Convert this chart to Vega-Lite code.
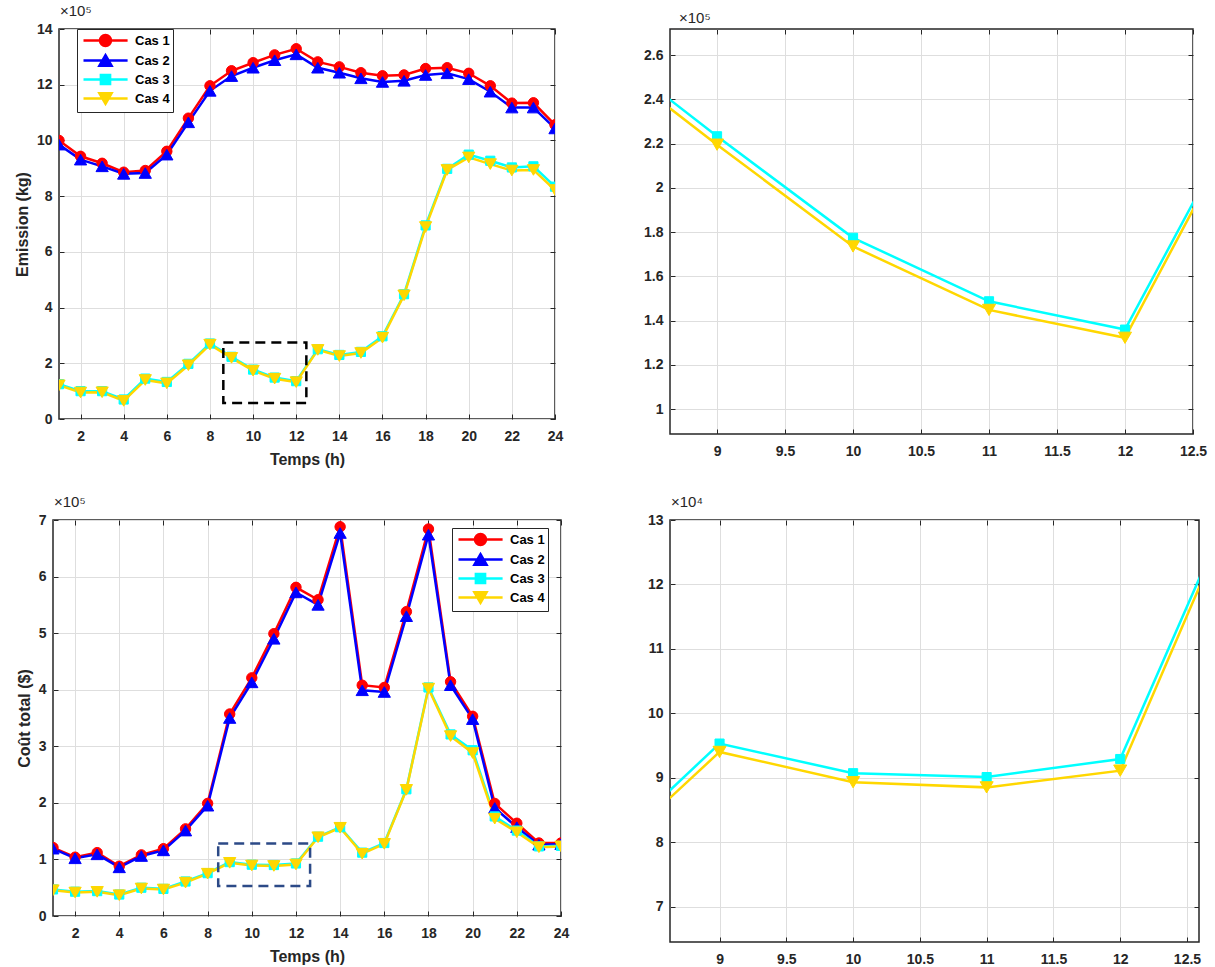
{
"$schema": "https://vega.github.io/schema/vega-lite/v6.json",
"background": "white",
"padding": {"left": 13, "top": 3, "right": 5, "bottom": 2},
"datasets": {
"emission": [
{"t":1,"cas":"Cas 1","v":1000000},{"t":2,"cas":"Cas 1","v":943000},{"t":3,"cas":"Cas 1","v":918000},{"t":4,"cas":"Cas 1","v":886000},{"t":5,"cas":"Cas 1","v":892000},{"t":6,"cas":"Cas 1","v":961000},{"t":7,"cas":"Cas 1","v":1080000},{"t":8,"cas":"Cas 1","v":1196000},{"t":9,"cas":"Cas 1","v":1250000},{"t":10,"cas":"Cas 1","v":1279000},{"t":11,"cas":"Cas 1","v":1307000},{"t":12,"cas":"Cas 1","v":1329000},{"t":13,"cas":"Cas 1","v":1282000},{"t":14,"cas":"Cas 1","v":1264000},{"t":15,"cas":"Cas 1","v":1243000},{"t":16,"cas":"Cas 1","v":1232000},{"t":17,"cas":"Cas 1","v":1235000},{"t":18,"cas":"Cas 1","v":1258000},{"t":19,"cas":"Cas 1","v":1261000},{"t":20,"cas":"Cas 1","v":1241000},{"t":21,"cas":"Cas 1","v":1196000},{"t":22,"cas":"Cas 1","v":1134000},{"t":23,"cas":"Cas 1","v":1135000},{"t":24,"cas":"Cas 1","v":1056000},
{"t":1,"cas":"Cas 2","v":985000},{"t":2,"cas":"Cas 2","v":931000},{"t":3,"cas":"Cas 2","v":907000},{"t":4,"cas":"Cas 2","v":880000},{"t":5,"cas":"Cas 2","v":883000},{"t":6,"cas":"Cas 2","v":949000},{"t":7,"cas":"Cas 2","v":1065000},{"t":8,"cas":"Cas 2","v":1178000},{"t":9,"cas":"Cas 2","v":1231000},{"t":10,"cas":"Cas 2","v":1261000},{"t":11,"cas":"Cas 2","v":1288000},{"t":12,"cas":"Cas 2","v":1309000},{"t":13,"cas":"Cas 2","v":1261000},{"t":14,"cas":"Cas 2","v":1243000},{"t":15,"cas":"Cas 2","v":1223000},{"t":16,"cas":"Cas 2","v":1210000},{"t":17,"cas":"Cas 2","v":1214000},{"t":18,"cas":"Cas 2","v":1235000},{"t":19,"cas":"Cas 2","v":1241000},{"t":20,"cas":"Cas 2","v":1220000},{"t":21,"cas":"Cas 2","v":1175000},{"t":22,"cas":"Cas 2","v":1118000},{"t":23,"cas":"Cas 2","v":1118000},{"t":24,"cas":"Cas 2","v":1043000},
{"t":1,"cas":"Cas 3","v":125000},{"t":2,"cas":"Cas 3","v":100000},{"t":3,"cas":"Cas 3","v":100000},{"t":4,"cas":"Cas 3","v":70000},{"t":5,"cas":"Cas 3","v":145000},{"t":6,"cas":"Cas 3","v":133000},{"t":7,"cas":"Cas 3","v":198000},{"t":8,"cas":"Cas 3","v":271000},{"t":9,"cas":"Cas 3","v":223300},{"t":10,"cas":"Cas 3","v":177400},{"t":11,"cas":"Cas 3","v":148700},{"t":12,"cas":"Cas 3","v":135900},{"t":13,"cas":"Cas 3","v":250500},{"t":14,"cas":"Cas 3","v":230000},{"t":15,"cas":"Cas 3","v":241000},{"t":16,"cas":"Cas 3","v":297000},{"t":17,"cas":"Cas 3","v":448000},{"t":18,"cas":"Cas 3","v":695000},{"t":19,"cas":"Cas 3","v":898000},{"t":20,"cas":"Cas 3","v":949000},{"t":21,"cas":"Cas 3","v":927000},{"t":22,"cas":"Cas 3","v":903000},{"t":23,"cas":"Cas 3","v":907000},{"t":24,"cas":"Cas 3","v":834000},
{"t":1,"cas":"Cas 4","v":121000},{"t":2,"cas":"Cas 4","v":95000},{"t":3,"cas":"Cas 4","v":96000},{"t":4,"cas":"Cas 4","v":65000},{"t":5,"cas":"Cas 4","v":140000},{"t":6,"cas":"Cas 4","v":128000},{"t":7,"cas":"Cas 4","v":193000},{"t":8,"cas":"Cas 4","v":267000},{"t":9,"cas":"Cas 4","v":219500},{"t":10,"cas":"Cas 4","v":173500},{"t":11,"cas":"Cas 4","v":144800},{"t":12,"cas":"Cas 4","v":132200},{"t":13,"cas":"Cas 4","v":248000},{"t":14,"cas":"Cas 4","v":226000},{"t":15,"cas":"Cas 4","v":237000},{"t":16,"cas":"Cas 4","v":292000},{"t":17,"cas":"Cas 4","v":444000},{"t":18,"cas":"Cas 4","v":689000},{"t":19,"cas":"Cas 4","v":894000},{"t":20,"cas":"Cas 4","v":939000},{"t":21,"cas":"Cas 4","v":915000},{"t":22,"cas":"Cas 4","v":892000},{"t":23,"cas":"Cas 4","v":894000},{"t":24,"cas":"Cas 4","v":822000}
],
"cost": [
{"t":1,"cas":"Cas 1","v":121000},{"t":2,"cas":"Cas 1","v":104000},{"t":3,"cas":"Cas 1","v":112000},{"t":4,"cas":"Cas 1","v":88000},{"t":5,"cas":"Cas 1","v":108000},{"t":6,"cas":"Cas 1","v":119000},{"t":7,"cas":"Cas 1","v":154000},{"t":8,"cas":"Cas 1","v":199000},{"t":9,"cas":"Cas 1","v":357000},{"t":10,"cas":"Cas 1","v":421000},{"t":11,"cas":"Cas 1","v":499000},{"t":12,"cas":"Cas 1","v":581000},{"t":13,"cas":"Cas 1","v":559000},{"t":14,"cas":"Cas 1","v":688000},{"t":15,"cas":"Cas 1","v":408000},{"t":16,"cas":"Cas 1","v":404000},{"t":17,"cas":"Cas 1","v":538000},{"t":18,"cas":"Cas 1","v":684000},{"t":19,"cas":"Cas 1","v":414000},{"t":20,"cas":"Cas 1","v":353000},{"t":21,"cas":"Cas 1","v":199000},{"t":22,"cas":"Cas 1","v":164000},{"t":23,"cas":"Cas 1","v":129000},{"t":24,"cas":"Cas 1","v":129000},
{"t":1,"cas":"Cas 2","v":119000},{"t":2,"cas":"Cas 2","v":102000},{"t":3,"cas":"Cas 2","v":109000},{"t":4,"cas":"Cas 2","v":86000},{"t":5,"cas":"Cas 2","v":106000},{"t":6,"cas":"Cas 2","v":116000},{"t":7,"cas":"Cas 2","v":151000},{"t":8,"cas":"Cas 2","v":195000},{"t":9,"cas":"Cas 2","v":350000},{"t":10,"cas":"Cas 2","v":413000},{"t":11,"cas":"Cas 2","v":490000},{"t":12,"cas":"Cas 2","v":572000},{"t":13,"cas":"Cas 2","v":550000},{"t":14,"cas":"Cas 2","v":677000},{"t":15,"cas":"Cas 2","v":399000},{"t":16,"cas":"Cas 2","v":396000},{"t":17,"cas":"Cas 2","v":530000},{"t":18,"cas":"Cas 2","v":674000},{"t":19,"cas":"Cas 2","v":408000},{"t":20,"cas":"Cas 2","v":348000},{"t":21,"cas":"Cas 2","v":191000},{"t":22,"cas":"Cas 2","v":157000},{"t":23,"cas":"Cas 2","v":126000},{"t":24,"cas":"Cas 2","v":127000},
{"t":1,"cas":"Cas 3","v":47000},{"t":2,"cas":"Cas 3","v":43000},{"t":3,"cas":"Cas 3","v":44000},{"t":4,"cas":"Cas 3","v":38000},{"t":5,"cas":"Cas 3","v":50000},{"t":6,"cas":"Cas 3","v":48000},{"t":7,"cas":"Cas 3","v":61000},{"t":8,"cas":"Cas 3","v":75800},{"t":9,"cas":"Cas 3","v":95300},{"t":10,"cas":"Cas 3","v":90700},{"t":11,"cas":"Cas 3","v":90100},{"t":12,"cas":"Cas 3","v":92900},{"t":13,"cas":"Cas 3","v":140200},{"t":14,"cas":"Cas 3","v":157000},{"t":15,"cas":"Cas 3","v":112000},{"t":16,"cas":"Cas 3","v":129000},{"t":17,"cas":"Cas 3","v":224000},{"t":18,"cas":"Cas 3","v":404000},{"t":19,"cas":"Cas 3","v":321000},{"t":20,"cas":"Cas 3","v":293000},{"t":21,"cas":"Cas 3","v":176000},{"t":22,"cas":"Cas 3","v":151000},{"t":23,"cas":"Cas 3","v":123000},{"t":24,"cas":"Cas 3","v":124000},
{"t":1,"cas":"Cas 4","v":45600},{"t":2,"cas":"Cas 4","v":41500},{"t":3,"cas":"Cas 4","v":42700},{"t":4,"cas":"Cas 4","v":36800},{"t":5,"cas":"Cas 4","v":48600},{"t":6,"cas":"Cas 4","v":46800},{"t":7,"cas":"Cas 4","v":59000},{"t":8,"cas":"Cas 4","v":74800},{"t":9,"cas":"Cas 4","v":94000},{"t":10,"cas":"Cas 4","v":89300},{"t":11,"cas":"Cas 4","v":88500},{"t":12,"cas":"Cas 4","v":91100},{"t":13,"cas":"Cas 4","v":139200},{"t":14,"cas":"Cas 4","v":156000},{"t":15,"cas":"Cas 4","v":110000},{"t":16,"cas":"Cas 4","v":127500},{"t":17,"cas":"Cas 4","v":223000},{"t":18,"cas":"Cas 4","v":402000},{"t":19,"cas":"Cas 4","v":318000},{"t":20,"cas":"Cas 4","v":288000},{"t":21,"cas":"Cas 4","v":172000},{"t":22,"cas":"Cas 4","v":148000},{"t":23,"cas":"Cas 4","v":121500},{"t":24,"cas":"Cas 4","v":123000}
],
"boxes": [
{"panel":"TL","x1":8.62,"x2":12.47,"y1":57000,"y2":275000},
{"panel":"BL","x1":8.48,"x2":12.64,"y1":53000,"y2":128000}
]
},
"columns": 2,
"spacing": {"row": 86, "column": 109},
"bounds": "flush",
"center": {"column": true},
"concat": [
{
"width": 496, "height": 390,
"title": {"text": "×10⁵"},
"resolve": {"scale": {"color": "independent", "shape": "independent", "stroke": "independent"}, "axis": {"x": "independent", "y": "independent"}},
"layer": [
{"data": {"name": "emission"},
 "mark": {"type": "line", "strokeWidth": 2.5, "clip": true},
 "encoding": {
  "x": {"field": "t", "type": "quantitative", "scale": {"domain": [1, 24], "nice": false, "zero": false}, "axis": {"orient": "bottom", "values": [2,4,6,8,10,12,14,16,18,20,22,24], "title": "Temps (h)", "labelExpr": "'' + datum.value", "labelPadding": 15, "titlePadding": 8}},
  "y": {"field": "v", "type": "quantitative", "scale": {"domain": [0, 1400000], "nice": false, "zero": false}, "axis": {"orient": "left", "values": [0,200000,400000,600000,800000,1000000,1200000,1400000], "title": "Emission (kg)", "labelExpr": "'' + datum.value / 100000", "labelPadding": 12, "titlePadding": 6}},
  "color": {"field": "cas", "type": "nominal", "scale": {"domain": ["Cas 1","Cas 2","Cas 3","Cas 4"], "range": ["#ff0000","#0000ff","#00ffff","#ffd700"]}, "legend": null}
 }},
{"data": {"name": "emission"},
 "mark": {"type": "point", "filled": true, "opacity": 1, "size": 150, "strokeWidth": 1, "clip": true},
 "encoding": {
  "x": {"field": "t", "type": "quantitative", "scale": {"domain": [1, 24], "nice": false, "zero": false}, "axis": {"orient": "top", "values": [2,4,6,8,10,12,14,16,18,20,22,24], "labels": false, "grid": false, "title": null}},
  "y": {"field": "v", "type": "quantitative", "scale": {"domain": [0, 1400000], "nice": false, "zero": false}, "axis": {"orient": "right", "values": [0,200000,400000,600000,800000,1000000,1200000,1400000], "labels": false, "grid": false, "title": null}},
  "color": {"field": "cas", "type": "nominal", "scale": {"domain": ["Cas 1","Cas 2","Cas 3","Cas 4"], "range": ["#ff0000","#0000ff","#00ffff","#ffd700"]}, "legend": null},
  "stroke": {"field": "cas", "type": "nominal", "scale": {"domain": ["Cas 1","Cas 2","Cas 3","Cas 4"], "range": ["#ff0000","#0000ff","#00ffff","#ffd700"]}, "legend": null},
  "shape": {"field": "cas", "type": "nominal", "scale": {"domain": ["Cas 1","Cas 2","Cas 3","Cas 4"], "range": ["M0.85,0A0.85,0.85,0,1,1,-0.85,0A0.85,0.85,0,1,1,0.85,0Z","triangle-up","M-0.75,-0.75H0.75V0.75H-0.75Z","triangle-down"]}, "legend": null}
 }},
{"data": {"name": "boxes"},
 "transform": [{"filter": "datum.panel == 'TL'"}],
 "mark": {"type": "rect", "filled": false, "stroke": "#000000", "strokeWidth": 2.5, "strokeDash": [10, 6]},
 "encoding": {
  "x": {"field": "x1", "type": "quantitative", "scale": {"domain": [1, 24], "nice": false, "zero": false}, "axis": null},
  "x2": {"field": "x2"},
  "y": {"field": "y1", "type": "quantitative", "scale": {"domain": [0, 1400000], "nice": false, "zero": false}, "axis": null},
  "y2": {"field": "y2"}
 }},
{"data": {"name": "emission"},
 "transform": [{"filter": "false"}],
 "mark": {"type": "point", "filled": true, "opacity": 1},
 "encoding": {
  "color": {"field": "cas", "type": "nominal", "scale": {"domain": ["Cas 1","Cas 2","Cas 3","Cas 4"], "range": ["#ff0000","#0000ff","#00ffff","#ffd700"]}, "legend": {"orient": "none", "legendX": 18, "legendY": 0, "title": null}},
  "stroke": {"field": "cas", "type": "nominal", "scale": {"domain": ["Cas 1","Cas 2","Cas 3","Cas 4"], "range": ["#ff0000","#0000ff","#00ffff","#ffd700"]}, "legend": {"orient": "none", "legendX": 18, "legendY": 0, "title": null}},
  "shape": {"field": "cas", "type": "nominal", "scale": {"domain": ["Cas 1","Cas 2","Cas 3","Cas 4"], "range": ["M-1,0H5.3M2.926,0A0.786,0.786,0,1,1,1.354,0A0.786,0.786,0,1,1,2.926,0Z","M-1,0H5.3M2.14,-0.757L3.011,0.757L1.269,0.757Z","M-1,0H5.3M1.483,-0.657H2.797V0.657H1.483Z","M-1,0H5.3M2.14,0.757L3.011,-0.757L1.269,-0.757Z"]}, "legend": {"orient": "none", "legendX": 18, "legendY": 0, "title": null}}
 }}
]
},
{
"width": 523, "height": 405,
"title": {"text": "×10⁵", "dx": 9},
"resolve": {"scale": {"color": "independent", "shape": "independent", "stroke": "independent"}, "axis": {"x": "independent", "y": "independent"}},
"layer": [
{"data": {"name": "emission"},
 "transform": [{"filter": "datum.cas == 'Cas 3' || datum.cas == 'Cas 4'"}],
 "mark": {"type": "line", "strokeWidth": 2.5, "clip": true},
 "encoding": {
  "x": {"field": "t", "type": "quantitative", "scale": {"domain": [8.654, 12.5], "nice": false, "zero": false}, "axis": {"orient": "bottom", "values": [9,9.5,10,10.5,11,11.5,12,12.5], "title": null, "labelExpr": "'' + datum.value", "labelPadding": 15}},
  "y": {"field": "v", "type": "quantitative", "scale": {"domain": [88700, 271800], "nice": false, "zero": false}, "axis": {"orient": "left", "values": [100000,120000,140000,160000,180000,200000,220000,240000,260000], "title": null, "labelExpr": "'' + datum.value / 100000", "labelPadding": 12}},
  "color": {"field": "cas", "type": "nominal", "scale": {"domain": ["Cas 1","Cas 2","Cas 3","Cas 4"], "range": ["#ff0000","#0000ff","#00ffff","#ffd700"]}, "legend": null}
 }},
{"data": {"name": "emission"},
 "transform": [{"filter": "datum.cas == 'Cas 3' || datum.cas == 'Cas 4'"}],
 "mark": {"type": "point", "filled": true, "opacity": 1, "size": 170, "strokeWidth": 1, "clip": true},
 "encoding": {
  "x": {"field": "t", "type": "quantitative", "scale": {"domain": [8.654, 12.5], "nice": false, "zero": false}, "axis": {"orient": "top", "values": [9,9.5,10,10.5,11,11.5,12,12.5], "labels": false, "grid": false, "title": null}},
  "y": {"field": "v", "type": "quantitative", "scale": {"domain": [88700, 271800], "nice": false, "zero": false}, "axis": {"orient": "right", "values": [100000,120000,140000,160000,180000,200000,220000,240000,260000], "labels": false, "grid": false, "title": null}},
  "color": {"field": "cas", "type": "nominal", "scale": {"domain": ["Cas 1","Cas 2","Cas 3","Cas 4"], "range": ["#ff0000","#0000ff","#00ffff","#ffd700"]}, "legend": null},
  "stroke": {"field": "cas", "type": "nominal", "scale": {"domain": ["Cas 1","Cas 2","Cas 3","Cas 4"], "range": ["#ff0000","#0000ff","#00ffff","#ffd700"]}, "legend": null},
  "shape": {"field": "cas", "type": "nominal", "scale": {"domain": ["Cas 1","Cas 2","Cas 3","Cas 4"], "range": ["M0.85,0A0.85,0.85,0,1,1,-0.85,0A0.85,0.85,0,1,1,0.85,0Z","triangle-up","M-0.7,-0.7H0.7V0.7H-0.7Z","triangle-down"]}, "legend": null}
 }}
]
},
{
"width": 508, "height": 396,
"title": {"text": "×10⁵"},
"resolve": {"scale": {"color": "independent", "shape": "independent", "stroke": "independent"}, "axis": {"x": "independent", "y": "independent"}},
"layer": [
{"data": {"name": "cost"},
 "mark": {"type": "line", "strokeWidth": 2.5, "clip": true},
 "encoding": {
  "x": {"field": "t", "type": "quantitative", "scale": {"domain": [1, 24], "nice": false, "zero": false}, "axis": {"orient": "bottom", "values": [2,4,6,8,10,12,14,16,18,20,22,24], "title": "Temps (h)", "labelExpr": "'' + datum.value", "labelPadding": 15, "titlePadding": 8}},
  "y": {"field": "v", "type": "quantitative", "scale": {"domain": [0, 700000], "nice": false, "zero": false}, "axis": {"orient": "left", "values": [0,100000,200000,300000,400000,500000,600000,700000], "title": "Coût total ($)", "labelExpr": "'' + datum.value / 100000", "labelPadding": 12, "titlePadding": 6}},
  "color": {"field": "cas", "type": "nominal", "scale": {"domain": ["Cas 1","Cas 2","Cas 3","Cas 4"], "range": ["#ff0000","#0000ff","#00ffff","#ffd700"]}, "legend": null}
 }},
{"data": {"name": "cost"},
 "mark": {"type": "point", "filled": true, "opacity": 1, "size": 150, "strokeWidth": 1, "clip": true},
 "encoding": {
  "x": {"field": "t", "type": "quantitative", "scale": {"domain": [1, 24], "nice": false, "zero": false}, "axis": {"orient": "top", "values": [2,4,6,8,10,12,14,16,18,20,22,24], "labels": false, "grid": false, "title": null}},
  "y": {"field": "v", "type": "quantitative", "scale": {"domain": [0, 700000], "nice": false, "zero": false}, "axis": {"orient": "right", "values": [0,100000,200000,300000,400000,500000,600000,700000], "labels": false, "grid": false, "title": null}},
  "color": {"field": "cas", "type": "nominal", "scale": {"domain": ["Cas 1","Cas 2","Cas 3","Cas 4"], "range": ["#ff0000","#0000ff","#00ffff","#ffd700"]}, "legend": null},
  "stroke": {"field": "cas", "type": "nominal", "scale": {"domain": ["Cas 1","Cas 2","Cas 3","Cas 4"], "range": ["#ff0000","#0000ff","#00ffff","#ffd700"]}, "legend": null},
  "shape": {"field": "cas", "type": "nominal", "scale": {"domain": ["Cas 1","Cas 2","Cas 3","Cas 4"], "range": ["M0.85,0A0.85,0.85,0,1,1,-0.85,0A0.85,0.85,0,1,1,0.85,0Z","triangle-up","M-0.75,-0.75H0.75V0.75H-0.75Z","triangle-down"]}, "legend": null}
 }},
{"data": {"name": "boxes"},
 "transform": [{"filter": "datum.panel == 'BL'"}],
 "mark": {"type": "rect", "filled": false, "stroke": "#2c4a87", "strokeWidth": 2.5, "strokeDash": [10, 6]},
 "encoding": {
  "x": {"field": "x1", "type": "quantitative", "scale": {"domain": [1, 24], "nice": false, "zero": false}, "axis": null},
  "x2": {"field": "x2"},
  "y": {"field": "y1", "type": "quantitative", "scale": {"domain": [0, 700000], "nice": false, "zero": false}, "axis": null},
  "y2": {"field": "y2"}
 }},
{"data": {"name": "cost"},
 "transform": [{"filter": "false"}],
 "mark": {"type": "point", "filled": true, "opacity": 1},
 "encoding": {
  "color": {"field": "cas", "type": "nominal", "scale": {"domain": ["Cas 1","Cas 2","Cas 3","Cas 4"], "range": ["#ff0000","#0000ff","#00ffff","#ffd700"]}, "legend": {"orient": "none", "legendX": 399, "legendY": 8, "title": null}},
  "stroke": {"field": "cas", "type": "nominal", "scale": {"domain": ["Cas 1","Cas 2","Cas 3","Cas 4"], "range": ["#ff0000","#0000ff","#00ffff","#ffd700"]}, "legend": {"orient": "none", "legendX": 399, "legendY": 8, "title": null}},
  "shape": {"field": "cas", "type": "nominal", "scale": {"domain": ["Cas 1","Cas 2","Cas 3","Cas 4"], "range": ["M-1,0H5.3M2.926,0A0.786,0.786,0,1,1,1.354,0A0.786,0.786,0,1,1,2.926,0Z","M-1,0H5.3M2.14,-0.757L3.011,0.757L1.269,0.757Z","M-1,0H5.3M1.483,-0.657H2.797V0.657H1.483Z","M-1,0H5.3M2.14,0.757L3.011,-0.757L1.269,-0.757Z"]}, "legend": {"orient": "none", "legendX": 399, "legendY": 8, "title": null}}
 }}
]
},
{
"width": 529, "height": 422,
"title": {"text": "×10⁴"},
"resolve": {"scale": {"color": "independent", "shape": "independent", "stroke": "independent"}, "axis": {"x": "independent", "y": "independent"}},
"layer": [
{"data": {"name": "cost"},
 "transform": [{"filter": "datum.cas == 'Cas 3' || datum.cas == 'Cas 4'"}],
 "mark": {"type": "line", "strokeWidth": 2.5, "clip": true},
 "encoding": {
  "x": {"field": "t", "type": "quantitative", "scale": {"domain": [8.629, 12.59], "nice": false, "zero": false}, "axis": {"orient": "bottom", "values": [9,9.5,10,10.5,11,11.5,12,12.5], "title": null, "labelExpr": "'' + datum.value", "labelPadding": 15}},
  "y": {"field": "v", "type": "quantitative", "scale": {"domain": [64500, 130000], "nice": false, "zero": false}, "axis": {"orient": "left", "values": [70000,80000,90000,100000,110000,120000,130000], "title": null, "labelExpr": "'' + datum.value / 10000", "labelPadding": 12}},
  "color": {"field": "cas", "type": "nominal", "scale": {"domain": ["Cas 1","Cas 2","Cas 3","Cas 4"], "range": ["#ff0000","#0000ff","#00ffff","#ffd700"]}, "legend": null}
 }},
{"data": {"name": "cost"},
 "transform": [{"filter": "datum.cas == 'Cas 3' || datum.cas == 'Cas 4'"}],
 "mark": {"type": "point", "filled": true, "opacity": 1, "size": 170, "strokeWidth": 1, "clip": true},
 "encoding": {
  "x": {"field": "t", "type": "quantitative", "scale": {"domain": [8.629, 12.59], "nice": false, "zero": false}, "axis": {"orient": "top", "values": [9,9.5,10,10.5,11,11.5,12,12.5], "labels": false, "grid": false, "title": null}},
  "y": {"field": "v", "type": "quantitative", "scale": {"domain": [64500, 130000], "nice": false, "zero": false}, "axis": {"orient": "right", "values": [70000,80000,90000,100000,110000,120000,130000], "labels": false, "grid": false, "title": null}},
  "color": {"field": "cas", "type": "nominal", "scale": {"domain": ["Cas 1","Cas 2","Cas 3","Cas 4"], "range": ["#ff0000","#0000ff","#00ffff","#ffd700"]}, "legend": null},
  "stroke": {"field": "cas", "type": "nominal", "scale": {"domain": ["Cas 1","Cas 2","Cas 3","Cas 4"], "range": ["#ff0000","#0000ff","#00ffff","#ffd700"]}, "legend": null},
  "shape": {"field": "cas", "type": "nominal", "scale": {"domain": ["Cas 1","Cas 2","Cas 3","Cas 4"], "range": ["M0.85,0A0.85,0.85,0,1,1,-0.85,0A0.85,0.85,0,1,1,0.85,0Z","triangle-up","M-0.7,-0.7H0.7V0.7H-0.7Z","triangle-down"]}, "legend": null}
 }}
]
}
],
"config": {
 "view": {"stroke": "#262626", "strokeWidth": 1.5},
 "font": "Liberation Sans",
 "axis": {"labelFont": "Liberation Sans", "labelFontSize": 14, "labelFontWeight": "bold", "labelColor": "#262626", "titleFont": "Liberation Sans", "titleFontSize": 16, "titleFontWeight": "bold", "titleColor": "#262626", "gridColor": "#dedede", "gridWidth": 1, "gridOpacity": 1, "tickColor": "#262626", "tickSize": -5, "tickWidth": 1, "domain": false, "labelFlush": false, "labelOverlap": false, "labelBound": false},
 "title": {"font": "Liberation Sans", "fontSize": 15, "fontWeight": "normal", "color": "#262626", "anchor": "start", "frame": "group", "offset": 3, "dx": 1},
 "legend": {"symbolSize": 196, "symbolStrokeWidth": 2.5, "symbolOpacity": 1, "symbolOffset": 2, "labelFont": "Liberation Sans", "labelFontSize": 13, "labelFontWeight": "bold", "labelColor": "#000000", "labelOffset": 36, "padding": 3, "rowPadding": -2, "strokeColor": "#262626", "fillColor": "#ffffff", "cornerRadius": 0}
}
}
